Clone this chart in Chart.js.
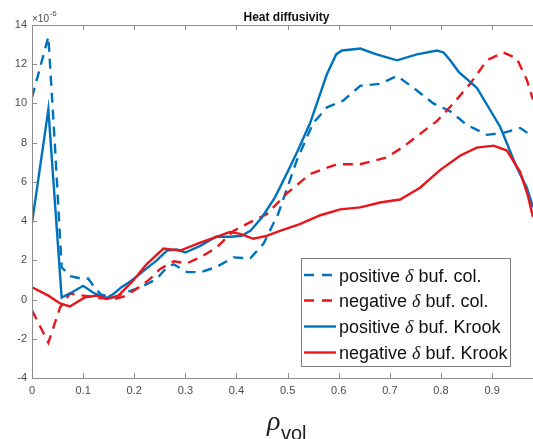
<!DOCTYPE html>
<html>
<head>
<meta charset="utf-8">
<title>Heat diffusivity</title>
<script src="https://cdn.jsdelivr.net/npm/chart.js"></script>
<style>
    body { margin: 0; background: #fff; }
    canvas { display: block; }
</style>
</head>
<body>
<canvas id="heatChart" width="533" height="439"></canvas>
<script>
// values, in units of 1e-6
var rhoTicks = [0, 0.1, 0.2, 0.3, 0.4, 0.5, 0.6, 0.7, 0.8, 0.9];
var dTicks = [-4, -2, 0, 2, 4, 6, 8, 10, 12, 14];
var seriesNames = ['positive \u03b4 buf. col.', 'negative \u03b4 buf. col.', 'positive \u03b4 buf. Krook', 'negative \u03b4 buf. Krook'];

var rhoPosCol = [0, 0.032, 0.045, 0.058, 0.074, 0.1, 0.11, 0.122, 0.135, 0.16, 0.185, 0.218, 0.244, 0.264, 0.277, 0.303, 0.33, 0.36, 0.394, 0.427, 0.453, 0.482, 0.518, 0.55, 0.577, 0.609, 0.642, 0.681, 0.714, 0.746, 0.785, 0.818, 0.851, 0.89, 0.922, 0.955, 0.98];
var dPosCol = [10.3, 13.4, 7.8, 1.65, 1.2, 1.05, 1.07, 0.63, 0.25, 0.1, 0.37, 0.7, 1.05, 1.65, 1.8, 1.4, 1.4, 1.65, 2.15, 2.1, 2.85, 4.4, 7.1, 9.0, 9.8, 10.15, 10.9, 11.0, 11.4, 10.8, 10.0, 9.6, 8.9, 8.4, 8.5, 8.75, 8.3];

var rhoNegCol = [0, 0.032, 0.055, 0.074, 0.1, 0.133, 0.162, 0.179, 0.205, 0.231, 0.25, 0.277, 0.303, 0.329, 0.361, 0.394, 0.427, 0.459, 0.498, 0.544, 0.596, 0.642, 0.694, 0.727, 0.759, 0.792, 0.824, 0.857, 0.89, 0.922, 0.948, 0.968, 0.98];
var dNegCol = [-0.55, -2.2, -0.4, 0.3, 0.2, 0.08, 0.03, 0.15, 0.55, 1.05, 1.55, 1.95, 1.85, 2.15, 2.65, 3.5, 3.95, 4.35, 5.4, 6.4, 6.9, 6.9, 7.25, 7.8, 8.45, 9.1, 10.0, 11.0, 12.2, 12.6, 12.3, 11.2, 10.2];

var rhoPosKrook = [0, 0.032, 0.058, 0.08, 0.1, 0.123, 0.146, 0.16, 0.175, 0.195, 0.22, 0.244, 0.264, 0.283, 0.3, 0.33, 0.36, 0.39, 0.41, 0.427, 0.45, 0.475, 0.498, 0.52, 0.544, 0.577, 0.595, 0.606, 0.625, 0.642, 0.674, 0.714, 0.753, 0.792, 0.805, 0.818, 0.835, 0.857, 0.87, 0.916, 0.948, 0.968, 0.98];
var dPosKrook = [3.9, 9.7, 0.1, 0.4, 0.7, 0.3, 0.08, 0.3, 0.63, 0.97, 1.5, 2.0, 2.5, 2.55, 2.4, 2.75, 3.2, 3.2, 3.25, 3.5, 4.2, 5.2, 6.4, 7.6, 9.0, 11.5, 12.5, 12.7, 12.75, 12.8, 12.5, 12.2, 12.5, 12.7, 12.6, 12.2, 11.6, 11.1, 10.8, 8.8, 6.75, 5.7, 4.7];

var rhoNegKrook = [0, 0.032, 0.055, 0.074, 0.104, 0.127, 0.146, 0.169, 0.198, 0.224, 0.257, 0.29, 0.329, 0.361, 0.387, 0.407, 0.433, 0.459, 0.485, 0.524, 0.564, 0.603, 0.642, 0.681, 0.72, 0.759, 0.798, 0.838, 0.87, 0.903, 0.929, 0.955, 0.97, 0.98];
var dNegKrook = [0.63, 0.2, -0.2, -0.35, 0.12, 0.2, 0.03, 0.2, 0.97, 1.8, 2.6, 2.5, 2.9, 3.2, 3.45, 3.35, 3.1, 3.25, 3.5, 3.85, 4.3, 4.6, 4.7, 4.95, 5.1, 5.7, 6.6, 7.35, 7.75, 7.85, 7.6, 6.5, 5.3, 4.2];

var BLUE = '#0072bd';
var RED = '#e8161b';
var AXIS = '#8c8c8c';
var TICKTEXT = '#4a4a4a';

function toPoints(xs, ys) {
    return xs.map((x, i) => ({ x: x, y: ys[i] }));
}

function makeSet(i, xs, ys, color, dashed) {
    return {
        label: seriesNames[i],
        data: toPoints(xs, ys),
        borderColor: color,
        backgroundColor: color,
        borderWidth: 2.4,
        borderDash: dashed ? [10, 7] : [],
        pointRadius: 0,
        tension: 0,
        fill: false,
        order: 4 - i
    };
}

// axes box, inward ticks, title, exponent, axis label, legend
var matlabFrame = {
    id: 'matlabFrame',
    afterDraw: function (chart) {
        var ctx = chart.ctx;
        var a = chart.chartArea;
        var xs = chart.scales.x, ys = chart.scales.y;
        ctx.save();
        ctx.strokeStyle = AXIS;
        ctx.lineWidth = 1;
        ctx.beginPath();
        ctx.moveTo(a.left + 0.5, a.top + 0.5);
        ctx.lineTo(a.right, a.top + 0.5);
        ctx.moveTo(a.left + 0.5, a.top);
        ctx.lineTo(a.left + 0.5, a.bottom + 0.5);
        ctx.lineTo(a.right, a.bottom + 0.5);
        rhoTicks.forEach(function (v) {
            var px = Math.round(xs.getPixelForValue(v)) + 0.5;
            ctx.moveTo(px, a.top);
            ctx.lineTo(px, a.top + 5);
            ctx.moveTo(px, a.bottom);
            ctx.lineTo(px, a.bottom - 5);
        });
        dTicks.forEach(function (v) {
            var py = Math.round(ys.getPixelForValue(v)) + 0.5;
            ctx.moveTo(a.left, py);
            ctx.lineTo(a.left + 5, py);
        });
        ctx.stroke();

        // title
        var cx = (a.left + a.right) / 2 + 4;
        ctx.fillStyle = '#111';
        ctx.font = 'bold 12px "Liberation Sans", Arial, sans-serif';
        ctx.textAlign = 'center';
        ctx.textBaseline = 'alphabetic';
        ctx.fillText('Heat diffusivity', cx, 21);

        // exponent
        ctx.fillStyle = TICKTEXT;
        ctx.textAlign = 'left';
        ctx.font = '10px "Liberation Sans", Arial, sans-serif';
        ctx.fillText('\u00d710', a.left, 22);
        var w = ctx.measureText('\u00d710').width;
        ctx.font = '8px "Liberation Sans", Arial, sans-serif';
        ctx.fillText('-6', a.left + w + 0.5, 16);

        // x axis label
        ctx.fillStyle = '#222';
        ctx.font = 'italic 28px "Liberation Serif", "DejaVu Serif", serif';
        ctx.fillText('\u03c1', 267, 430);
        ctx.font = '20px "Liberation Sans", Arial, sans-serif';
        ctx.fillText('vol', 281, 440);

        // legend
        var bx = 301, by = 258, bw = 209, bh = 108;
        ctx.fillStyle = '#fff';
        ctx.fillRect(bx, by, bw, bh);
        ctx.strokeStyle = '#7f7f7f';
        ctx.lineWidth = 1;
        ctx.strokeRect(bx + 0.5, by + 0.5, bw, bh);
        var rows = [275, 300.5, 326.5, 352.5];
        chart.data.datasets.forEach(function (ds, i) {
            var ry = rows[i];
            ctx.strokeStyle = ds.borderColor;
            ctx.lineWidth = ds.borderWidth;
            ctx.setLineDash(ds.borderDash.length ? [10, 8] : []);
            ctx.beginPath();
            ctx.moveTo(304, ry);
            ctx.lineTo(336, ry);
            ctx.stroke();
            ctx.setLineDash([]);
            var parts = ds.label.split('\u03b4');
            var tx = 339, base = ry + 6.5;
            ctx.fillStyle = '#111';
            ctx.font = '18px "Liberation Sans", Arial, sans-serif';
            ctx.fillText(parts[0], tx, base);
            tx += ctx.measureText(parts[0]).width;
            ctx.font = 'italic 18px "Liberation Serif", serif';
            ctx.fillText('\u03b4', tx, base);
            tx += ctx.measureText('\u03b4').width;
            ctx.font = '18px "Liberation Sans", Arial, sans-serif';
            ctx.fillText(parts[1], tx, base);
        });
        ctx.restore();
    }
};

var ctxHeat = document.getElementById('heatChart').getContext('2d');
var heatChart = new Chart(ctxHeat, {
    type: 'line',
    data: {
        datasets: [
            makeSet(0, rhoPosCol, dPosCol, BLUE, true),
            makeSet(1, rhoNegCol, dNegCol, RED, true),
            makeSet(2, rhoPosKrook, dPosKrook, BLUE, false),
            makeSet(3, rhoNegKrook, dNegKrook, RED, false)
        ]
    },
    options: {
        responsive: false,
        animation: false,
        layout: { padding: { top: 25, right: 0, left: 0, bottom: 0 } },
        plugins: {
            legend: { display: false },
            title: { display: false },
            tooltip: { enabled: false }
        },
        scales: {
            x: {
                type: 'linear',
                min: 0,
                max: 0.98,
                grid: { display: false, tickLength: 0 },
                border: { display: false },
                afterBuildTicks: function (scale) {
                    scale.ticks = rhoTicks.map(v => ({ value: v }));
                },
                afterFit: function (scale) { scale.height = 61; },
                ticks: {
                    padding: 6,
                    maxRotation: 0,
                    autoSkip: false,
                    color: TICKTEXT,
                    font: { family: '"Liberation Sans", Arial, sans-serif', size: 11 },
                    callback: function (v) { return v === 0 ? '0' : v.toFixed(1); }
                }
            },
            y: {
                type: 'linear',
                min: -4,
                max: 14,
                grid: { display: false, tickLength: 0 },
                border: { display: false },
                afterBuildTicks: function (scale) {
                    scale.ticks = dTicks.map(v => ({ value: v }));
                },
                afterFit: function (scale) { scale.width = 32; },
                ticks: {
                    padding: 5,
                    color: TICKTEXT,
                    font: { family: '"Liberation Sans", Arial, sans-serif', size: 11 }
                }
            }
        }
    },
    plugins: [matlabFrame]
});
</script>
</body>
</html>
